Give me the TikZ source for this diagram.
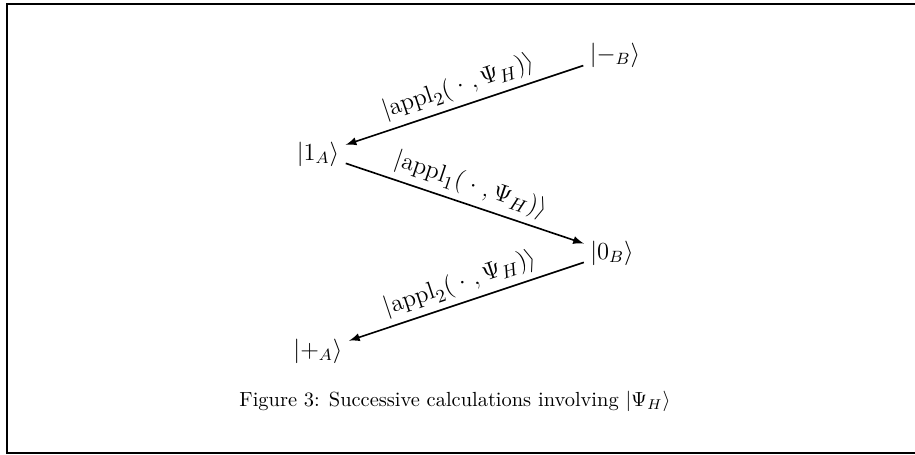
\documentclass[tikz,border=0pt]{standalone}
\usepackage{amsmath}
\usepackage{amssymb}
\usetikzlibrary{arrows}

\begin{document}
\begin{tikzpicture}[
    x=0.4894pt, y=-0.4894pt,
    ket/.style={inner sep=3pt, font=\large},
    arr/.style={->, >=latex, thick},
    lbl/.style={sloped, above, inner sep=3pt, font=\fontsize{13}{15}\selectfont}
]
\useasboundingbox (0,0) rectangle (915,454);

%% ===== FRAME (open on the right) =====
\draw[line width=1.2pt] (915,4) -- (7,4) -- (7,453) -- (915,453);

%% ===== STATES =====
\node[ket] (mB)    at (615,55)  {$|-_B\rangle$};
\node[ket] (oneA)  at (318,154) {$|1_A\rangle$};
\node[ket] (zeroB) at (612,253) {$|0_B\rangle$};
\node[ket] (plusA) at (318,351) {$|+_A\rangle$};

%% ===== ARROWS =====
\draw[arr] (mB)    -- node[lbl] {$|\mathrm{appl}_2(\;\cdot\;,\Psi_H)\rangle$} (oneA);
\draw[arr] (oneA)  -- node[lbl] {$|\mathrm{appl}_1(\;\cdot\;,\Psi_H)\rangle$} (zeroB);
\draw[arr] (zeroB) -- node[lbl] {$|\mathrm{appl}_2(\;\cdot\;,\Psi_H)\rangle$} (plusA);

%% ===== CAPTION =====
\node (cap) at (455,401) {Figure 3: Successive calculations involving $|\Psi_H\rangle$};

\end{tikzpicture}
\end{document}
